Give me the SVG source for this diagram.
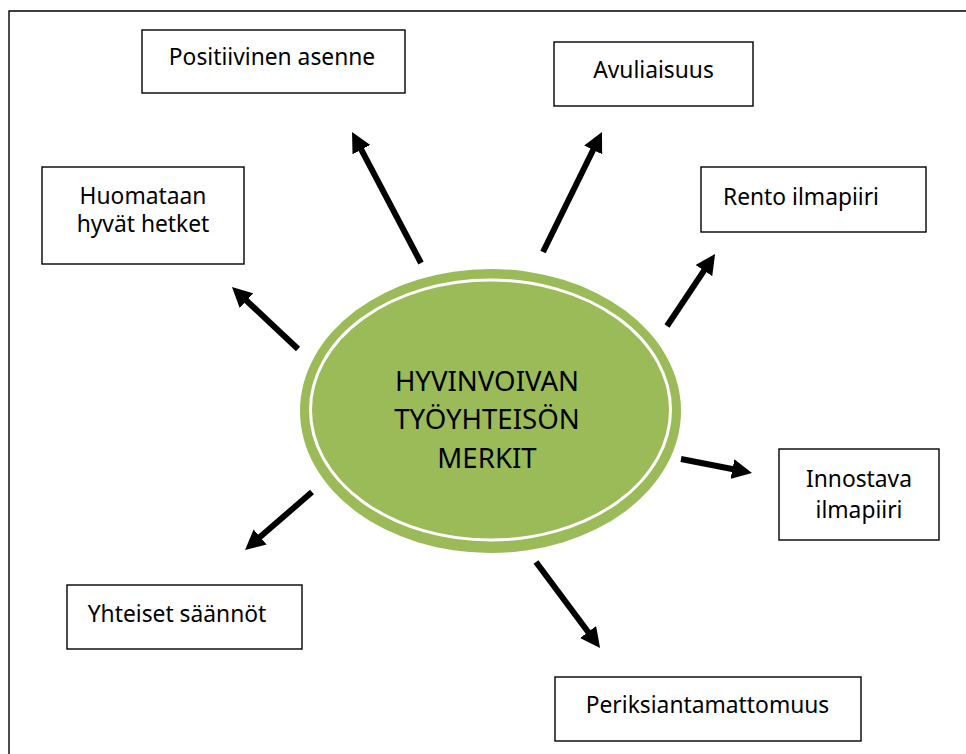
<svg xmlns="http://www.w3.org/2000/svg" width="966" height="754" viewBox="0 0 966 754">
  <style>
    .box { fill: #ffffff; stroke: #000000; stroke-width: 1.4; }
    .lbl { font-family: "Noto Sans", "Open Sans", sans-serif; font-size: 22.8px; fill: #000000; text-anchor: middle; }
    .core { font-family: "Noto Sans", "Open Sans", sans-serif; font-size: 27.6px; fill: #000000; text-anchor: middle; }
    .arrow { stroke: #000000; stroke-width: 6; fill: none; marker-end: url(#head); }
  </style>
  <defs>
    <marker id="head" markerUnits="userSpaceOnUse" viewBox="0 0 20 20" markerWidth="20" markerHeight="20" refX="1" refY="10" orient="auto">
      <path d="M0,0 L20,10 L0,20 z" fill="#000000"/>
    </marker>
  </defs>

  <rect width="966" height="754" fill="#ffffff"/>
  <!-- page frame (left and top edges) -->
  <path d="M9,760 V11 H975" fill="none" stroke="#000000" stroke-width="1.4"/>

  <!-- central ellipse -->
  <g id="center">
    <ellipse cx="490.5" cy="411" rx="190.5" ry="142" fill="#9BBB59"/>
    <ellipse cx="490.5" cy="410" rx="180" ry="130" fill="none" stroke="#ffffff" stroke-width="3"/>
    <text class="core" x="487" y="391">HYVINVOIVAN</text>
    <text class="core" x="487" y="429">TYÖYHTEISÖN</text>
    <text class="core" x="487" y="468">MERKIT</text>
  </g>

  <!-- connectors -->
  <g id="connectors">
    <line class="arrow" x1="421" y1="263" x2="360.9" y2="148.8"/>
    <line class="arrow" x1="543" y1="252" x2="593.6" y2="149.0"/>
    <line class="arrow" x1="667" y1="326" x2="704.5" y2="269.8"/>
    <line class="arrow" x1="681" y1="459" x2="733.4" y2="469.3"/>
    <line class="arrow" x1="536" y1="562" x2="588.7" y2="632.8"/>
    <line class="arrow" x1="312" y1="492" x2="259.4" y2="537.6"/>
    <line class="arrow" x1="298" y1="349" x2="245.8" y2="300.0"/>
  </g>

  <g id="positiivinen">
    <rect class="box" x="142" y="30" width="263" height="63"/>
    <text class="lbl" x="272" y="65">Positiivinen asenne</text>
  </g>
  <g id="avuliaisuus">
    <rect class="box" x="554" y="42" width="199" height="64"/>
    <text class="lbl" x="653.5" y="78">Avuliaisuus</text>
  </g>
  <g id="rento">
    <rect class="box" x="701" y="167" width="225" height="65"/>
    <text class="lbl" x="801" y="205">Rento ilmapiiri</text>
  </g>
  <g id="huomataan">
    <rect class="box" x="42" y="167" width="202" height="97"/>
    <text class="lbl" x="143" y="204">Huomataan</text>
    <text class="lbl" x="143" y="232">hyvät hetket</text>
  </g>
  <g id="innostava">
    <rect class="box" x="779" y="449" width="160" height="91"/>
    <text class="lbl" x="859" y="487">Innostava</text>
    <text class="lbl" x="859" y="518">ilmapiiri</text>
  </g>
  <g id="yhteiset">
    <rect class="box" x="67" y="585" width="235" height="64"/>
    <text class="lbl" x="177" y="622">Yhteiset säännöt</text>
  </g>
  <g id="periksiantamattomuus">
    <rect class="box" x="555" y="677" width="306" height="64"/>
    <text class="lbl" x="707.5" y="713">Periksiantamattomuus</text>
  </g>
</svg>
